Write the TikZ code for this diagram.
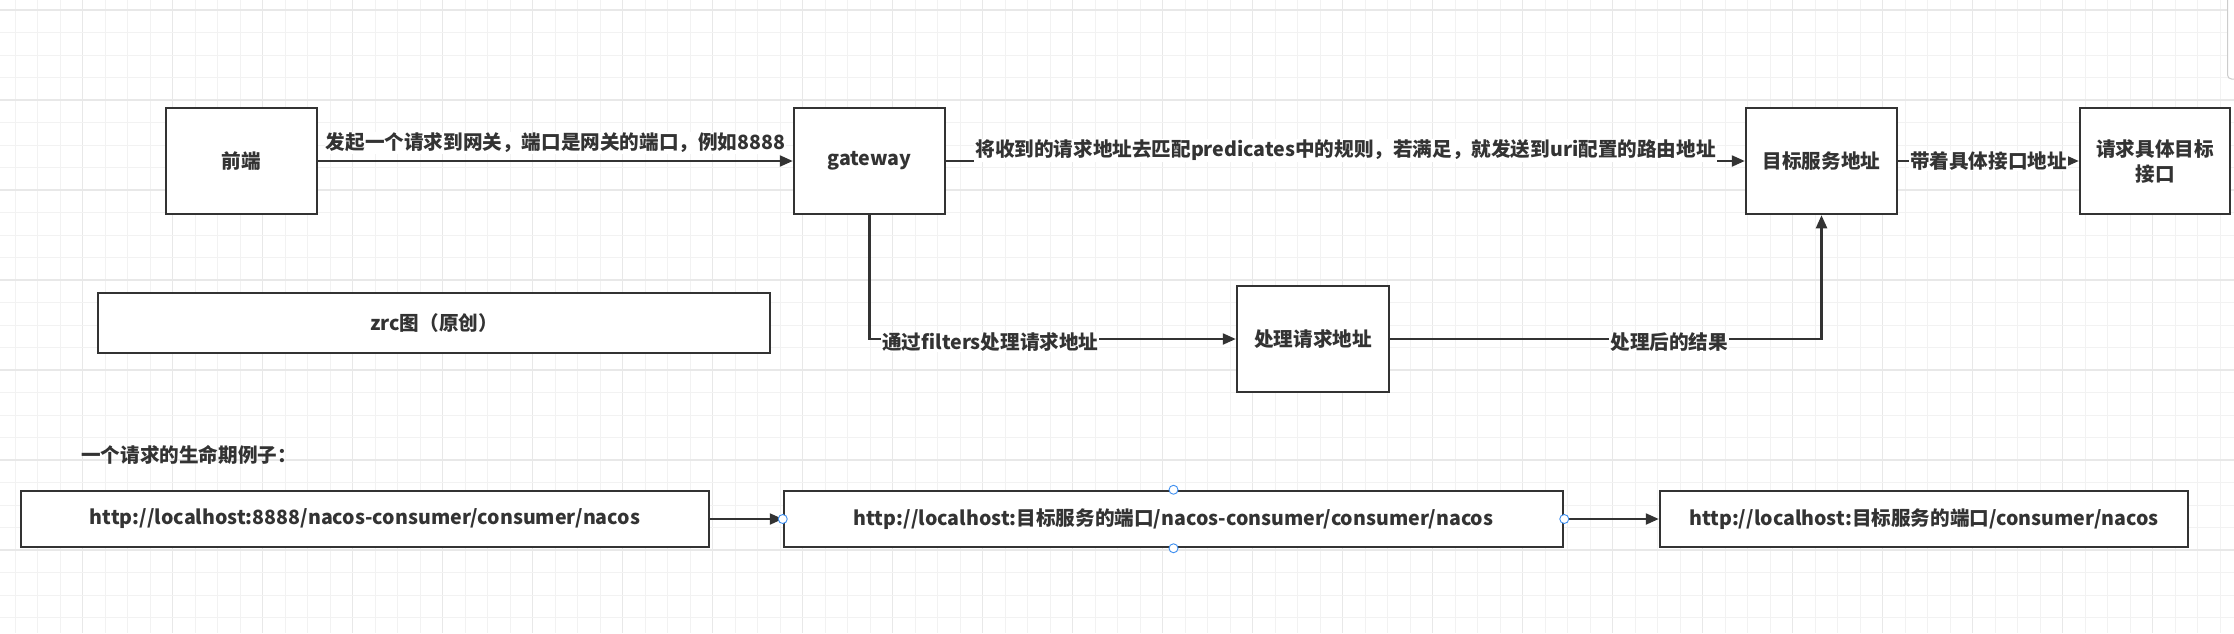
\documentclass[tikz,border=0pt]{standalone}
\usepackage{fontspec}
\setmainfont{Noto Sans CJK SC}
\usetikzlibrary{arrows.meta}
\definecolor{ink}{HTML}{333333}
\definecolor{gminor}{HTML}{F2F2F2}
\definecolor{gmajor}{HTML}{E8E8E8}
\definecolor{hblue}{HTML}{3D8EF0}
\definecolor{sbar}{HTML}{CCCCCC}
\begin{document}
\begin{tikzpicture}[x=1pt,y=-1pt,
  box/.style={draw=ink, line width=2.5pt, fill=white, align=center, text=ink,
    font=\bfseries\fontsize{19.6}{25}\selectfont, inner sep=0pt},
  conn/.style={draw=ink, line width=2.2pt, -{Triangle[length=13pt,width=11pt]}},
  lbl/.style={fill=white, inner sep=1pt, text=ink, font=\bfseries\fontsize{19.6}{23}\selectfont},
  hnd/.style={circle, draw=hblue, fill=white, line width=0.9pt, minimum size=9pt, inner sep=0pt}]
\useasboundingbox (0,0) rectangle (2234,633);
\fill[white] (0,0) rectangle (2234,633);
% grid
\begin{scope}
\clip (0,0) rectangle (2234,633);
\foreach \i in {0,...,100} {
  \pgfmathsetmacro{\xx}{-7.3+22.5*\i}
  \pgfmathtruncatemacro{\mm}{mod(\i,4)}
  \ifnum\mm=0
    \draw[gmajor, line width=1.2pt] (\xx,0) -- (\xx,633);
  \else
    \draw[gminor, line width=1pt] (\xx,0) -- (\xx,633);
  \fi
}
\foreach \j in {0,...,28} {
  \pgfmathsetmacro{\yy}{-12.5+22.5*\j}
  \pgfmathtruncatemacro{\mm}{mod(\j+3,4)}
  \ifnum\mm=0
    \draw[gmajor, line width=1.2pt] (0,\yy) -- (2234,\yy);
  \else
    \draw[gminor, line width=1pt] (0,\yy) -- (2234,\yy);
  \fi
}
\draw[sbar, fill=white, rounded corners=4pt, line width=1pt] (2227.5,-10) rectangle (2250,79);
\end{scope}

% main nodes
\node[box, minimum width=151pt, minimum height=106pt] (fe) at (241.5,161) {前端};
\node[box, minimum width=151pt, minimum height=106pt] (gw) at (869.5,161) {gateway};
\node[box, minimum width=151pt, minimum height=106pt] (tgt) at (1821.5,161) {目标服务地址};
\node[box, minimum width=150pt, minimum height=106pt] (req) at (2155,161) {请求具体目标\\接口};
\node[box, minimum width=152pt, minimum height=106pt] (proc) at (1313,339) {处理请求地址};
\node[box, minimum width=672pt, minimum height=60pt] (zrc) at (434,323) {zrc图（原创）};

\node[anchor=west, text=ink, font=\bfseries\fontsize{19.6}{23}\selectfont, inner sep=0pt] (title) at (81,455) {一个请求的生命期例子：};

\node[box, minimum width=688pt, minimum height=56pt] (u1) at (365,519) {http://localhost:8888/nacos-consumer/consumer/nacos};
\node[box, minimum width=779pt, minimum height=56pt] (u2) at (1173.5,519) {http://localhost:目标服务的端口/nacos-consumer/consumer/nacos};
\node[box, minimum width=528pt, minimum height=56pt] (u3) at (1924,519) {http://localhost:目标服务的端口/consumer/nacos};

% connectors
\draw[conn] (fe) -- node[lbl, pos=0.5, yshift=18pt] (l1) {发起一个请求到网关，端口是网关的端口，例如8888} (gw);
\draw[conn] (gw) -- node[lbl, pos=0.5, yshift=11pt] (l2) {将收到的请求地址去匹配predicates中的规则，若满足，就发送到uri配置的路由地址} (tgt);
\draw[conn] (tgt) -- node[lbl, pos=0.5] (l3) {带着具体接口地址} (req);
\draw[conn] (gw.south) |- node[lbl, pos=0.665, yshift=-3pt] (l4) {通过filters处理请求地址} (proc.west);
\draw[conn] (proc.east) -| node[lbl, pos=0.3235, yshift=-3pt] (l5) {处理后的结果} (tgt.south);
\draw[conn] (u1) -- (u2);
\draw[conn] (u2) -- (u3);

% selection handles
\node[hnd] (h1) at (u2.west) {};
\node[hnd] (h2) at (u2.east) {};
\node[hnd] (h3) at (u2.north) {};
\node[hnd] (h4) at (u2.south) {};
\end{tikzpicture}
\end{document}
